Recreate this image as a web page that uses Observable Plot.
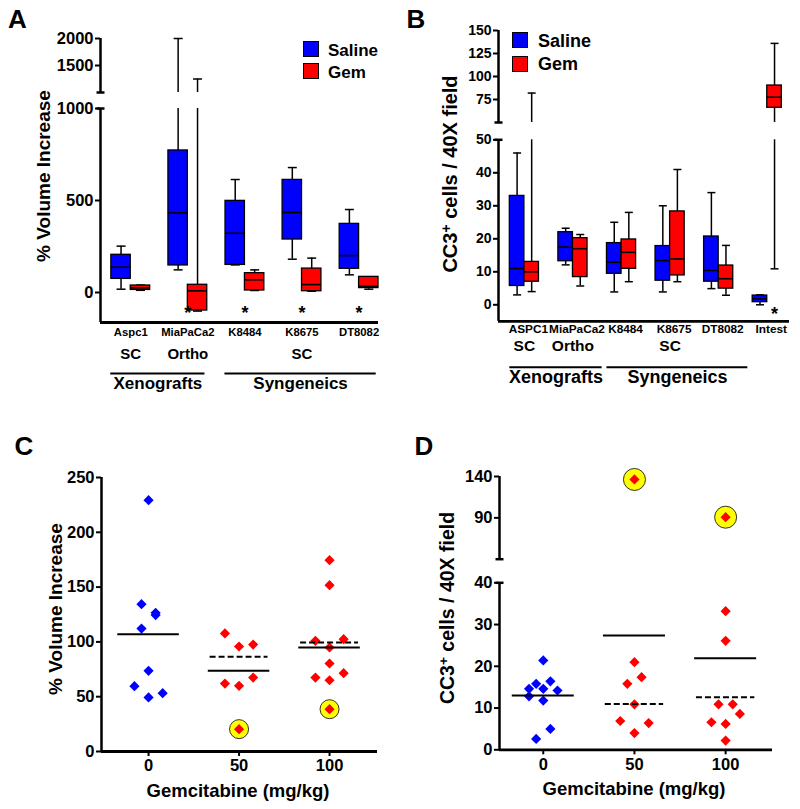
<!DOCTYPE html>
<html><head><meta charset="utf-8">
<script src="https://cdn.jsdelivr.net/npm/d3@7"></script>
<script src="https://cdn.jsdelivr.net/npm/@observablehq/plot@0.6"></script>
<style>
body{margin:0;background:#fff;}
#fig{position:relative;width:800px;height:809px;background:#fff;font-family:"Liberation Sans",Arial,Helvetica,sans-serif;font-weight:bold;overflow:hidden}
.panel{position:absolute}
.t{position:absolute;white-space:nowrap;line-height:1;color:#000}
.sup{position:relative;top:-0.45em;font-size:0.7em}
.sw{position:absolute;box-sizing:border-box;border:1px solid #000}
svg.tick-lg g[aria-label$="tick label"], svg.tick-lg g[aria-label$="tick label"] text{font-size:16.5px !important;font-weight:bold !important}
svg.tick-md g[aria-label$="tick label"], svg.tick-md g[aria-label$="tick label"] text{font-size:14px !important;font-weight:bold !important}
</style></head><body><div id="fig"></div>
<script>
// ---------------- DATA ----------------
// Panel A: % volume increase, box stats [min, q1, median, q3, max]
const categoriesA = ["Aspc1", "MiaPaCa2", "K8484", "K8675", "DT8082"];
const salineA = [[18, 74, 138, 205, 252], [123, 147, 433, 772, 2000], [150, 150, 322, 498, 614], [181, 288, 435, 612, 679], [96, 129, 201, 373, 451]];
const gemA = [[12, 14, 25, 38, 40], [-101, -98, 9, 42, 1250], [11, 11, 69, 105, 123], [7, 7, 43, 130, 187], [18, 24, 33, 85, 85]];
const starsA = [{cat: "MiaPaCa2"}, {cat: "K8484"}, {cat: "K8675"}, {cat: "DT8082"}];
const implantA = [{label: "SC", at: "Aspc1"}, {label: "Ortho", at: "MiaPaCa2"}, {label: "SC", at: "K8675"}];
const modelsA = [{label: "Xenografts", from: "Aspc1", to: "MiaPaCa2"}, {label: "Syngeneics", from: "K8484", to: "DT8082"}];
const ticksA = [0, 500, 1000, 1500, 2000];
const axisA = [-163, 1000, 2000]; // bottom, break, top

// Panel B: CC3+ cells / 40X field
const categoriesB = ["ASPC1", "MiaPaCa2", "K8484", "K8675", "DT8082", "Intest"];
const salineB = [[3, 5.7, 11, 33, 46], [12.1, 13.2, 17.5, 22, 23.2], [3.9, 9.4, 12.9, 18.7, 25], [3.9, 7.3, 13.4, 17.8, 30], [4.9, 7, 10.4, 20.7, 34], [0, 0.8, 1.8, 2.8, 3]];
const gemB = [[4, 7, 10, 13, 82], [5.7, 8.4, 17, 20.2, 21.3], [7, 10.9, 15.9, 19.8, 28], [7, 8.9, 13.9, 28.3, 41], [2.9, 4.9, 7.9, 11.9, 18], [10.9, 66, 77.5, 90.2, 136]];
const starsB = [{cat: "Intest", group: "Gem"}];
const implantB = [{label: "SC", at: "ASPC1"}, {label: "Ortho", at: "MiaPaCa2"}, {label: "SC", at: "K8675"}];
const modelsB = [{label: "Xenografts", from: "ASPC1", to: "MiaPaCa2"}, {label: "Syngeneics", from: "K8484", to: "DT8082"}];
const ticksB = [0, 10, 20, 30, 40, 50, 75, 100, 125, 150];
const axisB = [-5, 50, 150];

// Panel C: % volume increase vs gemcitabine dose
const dosesC = [0, 50, 100];
const valuesC = [
  [229.3, 134.4, 126.5, 124.5, 112.2, 73.6, 59.6, 49.3, 53.2],
  [107.7, 95.8, 97.6, 62, 59.9, 67.5, 20.4],
  [174.6, 151.8, 101, 102.5, 94.9, 80.3, 67.5, 65, 71.5, 38.6]
];
const columnC = [
  [0, -1, 1, 1, -1, 0, -2, 0, 2],
  [-2, 0, 2, -2, 0, 2, 0],
  [0, 0, -2, 2, 0, 0, -2, 0, 2, 0]
];
const circledC = [[], [20.4], [38.6]];
const meanAllC = [107, 73.6, 95];
const meanExclC = [null, 86.4, 99.5];
const ticksC = [0, 50, 100, 150, 200, 250];
const axisC = [0, 250];

// Panel D: CC3+ cells vs gemcitabine dose
const dosesD = [0, 50, 100];
const valuesD = [
  [21.4, 15.8, 14.6, 16.4, 14.6, 14.2, 12.8, 11.8, 5, 2.6],
  [136.4, 21, 17.4, 15.8, 10.9, 6.9, 6.4, 4],
  [90.8, 33.2, 26.1, 10.9, 10.9, 8.6, 6.6, 6.2, 2.2]
];
const columnD = [
  [0, -1, -2, 1, 0, 2, -2, 0, 1, -1],
  [0, 0, 1, -1, 0, -2, 2, 0],
  [0, 0, 0, -1, 1, 2, -2, 0, 0]
];
const circledD = [[], [136.4], [90.8]];
const meanAllD = [13, 27.4, 21.9];
const meanExclD = [null, 11, 12.6];
const ticksD = [0, 10, 20, 30, 40, 90, 140];
const axisD = [0, 40, 140];

// ---------------- STYLE / HELPERS ----------------
const FONT = '"Liberation Sans", Arial, Helvetica, sans-serif';
const BLUE = "#0000ff", RED = "#ff0000", YELLOW = "#ffff00";
const hline = {draw(ctx, size) { const r = Math.sqrt(size / Math.PI); ctx.moveTo(-r, 0); ctx.lineTo(r, 0); }};
const fig = document.getElementById("fig");

function place(node, left, top) {
  const d = document.createElement("div");
  d.className = "panel"; d.style.left = left + "px"; d.style.top = top + "px";
  d.appendChild(node); fig.appendChild(d);
}
function addText(html, x, y, size, opts = {}) {
  const d = document.createElement("div");
  d.className = "t"; d.innerHTML = html;
  d.style.left = x + "px"; d.style.top = y + "px"; d.style.fontSize = size + "px";
  d.style.transform = (opts.start ? "translate(0,-50%)" : "translate(-50%,-50%)") + (opts.rotate ? " rotate(-90deg)" : "");
  fig.appendChild(d);
}
function addSwatch(x, y, s, color) {
  const d = document.createElement("div");
  d.className = "sw"; d.style.left = x + "px"; d.style.top = y + "px";
  d.style.width = s + "px"; d.style.height = s + "px"; d.style.background = color;
  fig.appendChild(d);
}
// value belongs to a segment (upper segments exclude their bottom break value)
const inSeg = (seg, v) => v != null && (seg.upper ? v > seg.domain[0] : v >= seg.domain[0]) && v <= seg.domain[1];

// common axis marks of one segment
function axisMarks(c, seg) {
  const x0 = c.xDomain[0];
  const m = [
    Plot.ruleX([x0], {stroke: "black", strokeWidth: 2.5}),
    Plot.axisY({ticks: c.ticks.filter((t) => inSeg(seg, t)), tickSize: 5, tickPadding: 2, strokeWidth: 2, fontSize: c.tickFont, tickFormat: (d) => String(d), label: null})
  ];
  if (seg.cap != null) m.push(Plot.dot([seg.cap], {x: () => x0, y: (d) => d, symbol: hline, r: 4, stroke: "black", fill: "none", strokeWidth: 2.5}));
  if (!seg.upper) m.push(Plot.ruleY([seg.domain[0]], {stroke: "black", strokeWidth: 2.8}));
  return m;
}
function segmentsOf(axis, c) {
  // c.frames: frame [top, bottom] of each segment, in panel pixels
  if (axis.length === 2) return [{domain: axis, upper: false, cap: null, top: 0, height: c.height, marginTop: c.frames[0][0], marginBottom: c.height - c.frames[0][1]}];
  const split = Math.round((c.frames[0][1] + c.frames[1][0]) / 2);
  return [
    {domain: [axis[1], axis[2]], upper: true, cap: axis[1], top: 0, height: split, marginTop: c.frames[0][0], marginBottom: split - c.frames[0][1]},
    {domain: [axis[0], axis[1]], upper: false, cap: axis[1], top: split, height: c.height - split, marginTop: c.frames[1][0] - split, marginBottom: c.height - c.frames[1][1]}
  ];
}
function plotSeg(c, seg, marks) {
  return Plot.plot({
    width: 400, height: seg.height, marginTop: seg.marginTop, marginBottom: seg.marginBottom,
    marginLeft: c.marginLeft, marginRight: c.marginRight,
    className: c.tickFont > 15 ? "tick-lg" : "tick-md",
    style: {fontFamily: FONT, fontWeight: "bold", fontSize: c.tickFont + "px", background: "transparent", overflow: "visible"},
    x: {domain: c.xDomain, axis: null, label: null},
    y: {domain: seg.domain, label: null, axis: null},
    marks
  });
}

// ---------------- BOX PANELS ----------------
function boxPanel(c, left, top) {
  const idx = (k) => c.cats.indexOf(k);
  const rows = [];
  c.cats.forEach((cat, i) => {
    [["Saline", c.saline[i], -1], ["Gem", c.gem[i], 1]].forEach(([group, s, side]) => {
      rows.push({cat, group, x1: side < 0 ? i - c.boxW : i, x2: side < 0 ? i : i + c.boxW,
        xc: i + side * c.boxW / 2, min: s[0], q1: s[1], med: s[2], q3: s[3], max: s[4]});
    });
  });
  const starX = (s) => s.group ? rows.find((r) => r.cat === s.cat && r.group === s.group).xc : idx(s.cat);
  const gx1 = (d) => idx(d.from) - c.groupPad[0];
  const gx2 = (d) => idx(d.to) + c.groupPad[1];
  const o = c.offsets;
  for (const seg of segmentsOf(c.axis, c)) {
    const [lo, hi] = seg.domain;
    const whiskers = rows.filter((r) => r.max > lo && r.min < hi).map((r) => ({x: r.xc, y1: Math.max(r.min, lo), y2: Math.min(r.max, hi)}));
    const boxes = rows.filter((r) => inSeg(seg, r.q1) && inSeg(seg, r.q3));
    const marks = [
      Plot.ruleX(whiskers, {x: "x", y1: "y1", y2: "y2", stroke: "black", strokeWidth: 1.5}),
      Plot.dot(rows.filter((r) => inSeg(seg, r.min)), {x: "xc", y: "min", symbol: hline, r: c.capR, stroke: "black", fill: "none", strokeWidth: 1.5}),
      Plot.dot(rows.filter((r) => inSeg(seg, r.max)), {x: "xc", y: "max", symbol: hline, r: c.capR, stroke: "black", fill: "none", strokeWidth: 1.5}),
      Plot.rect(boxes.filter((r) => r.group === "Saline"), {x1: "x1", x2: "x2", y1: "q1", y2: "q3", fill: BLUE, stroke: "black", strokeWidth: 1.3}),
      Plot.rect(boxes.filter((r) => r.group === "Gem"), {x1: "x1", x2: "x2", y1: "q1", y2: "q3", fill: RED, stroke: "black", strokeWidth: 1.3}),
      Plot.ruleY(boxes, {x1: "x1", x2: "x2", y: "med", stroke: "black", strokeWidth: 1.6}),
      ...axisMarks(c, seg)
    ];
    if (!seg.upper) marks.push(
      Plot.text(c.cats, {x: (d, i) => i, text: (d) => d, frameAnchor: "bottom", dy: o.cat, dx: c.catDx, fontSize: c.catFont}),
      Plot.text(c.stars, {x: starX, text: () => "*", frameAnchor: "bottom", dy: o.star, fontSize: 18}),
      Plot.text(c.implant, {x: (d) => idx(d.at), text: "label", frameAnchor: "bottom", dy: o.implant, fontSize: c.implantFont}),
      Plot.ruleY(c.models, {x1: gx1, x2: gx2, y: () => lo, dy: o.line, stroke: "black", strokeWidth: 2}),
      Plot.text(c.models, {x: (d) => (gx1(d) + gx2(d)) / 2, text: "label", frameAnchor: "bottom", dy: o.group, fontSize: c.groupFont})
    );
    place(plotSeg(c, seg, marks), left, top + seg.top);
  }
}

boxPanel({
  cats: categoriesA, saline: salineA, gem: gemA, stars: starsA, implant: implantA, models: modelsA, ticks: ticksA, axis: axisA,
  height: 400, frames: [[38, 92], [108, 322]],
  xDomain: [-0.53, 4.34], marginLeft: 100, marginRight: 22,
  boxW: 0.34, capR: 4.5, tickFont: 16.5, catFont: 11.3, catDx: 0, implantFont: 15, groupFont: 17,
  groupPad: [0.35, 0.3], offsets: {cat: 13, star: -4, implant: 36.5, line: 51, group: 66.5}
}, 0, 0);

boxPanel({
  cats: categoriesB, saline: salineB, gem: gemB, stars: starsB, implant: implantB, models: modelsB, ticks: ticksB, axis: axisB,
  height: 400, frames: [[30, 122], [139.3, 320.8]],
  xDomain: [-0.533, 5.458], marginLeft: 98, marginRight: 11,
  boxW: 0.30, capR: 4, tickFont: 14, catFont: 11.8, catDx: 4, implantFont: 15.5, groupFont: 18,
  groupPad: [0.3, 0.6], offsets: {cat: 12, star: -1.5, implant: 29.5, line: 46, group: 62}
}, 400, 0);

// ---------------- SCATTER PANELS ----------------
function scatterPanel(c, left, top) {
  const pts = [], circ = [], means = [];
  c.doses.forEach((dose, g) => {
    c.values[g].forEach((v, k) => pts.push({dose, value: v, col: c.columns[g][k]}));
    c.circled[g].forEach((v) => circ.push({dose, value: v}));
    means.push({dose, value: c.meanAll[g], kind: "all"});
    if (c.meanExcl[g] != null) means.push({dose, value: c.meanExcl[g], kind: "excl"});
  });
  const px = (d) => d.dose + d.col * c.colW;
  for (const seg of segmentsOf(c.axis, c)) {
    const inS = (d) => inSeg(seg, d.value);
    const marks = [
      ...axisMarks(c, seg),
      Plot.dot(circ.filter(inS), {x: "dose", y: "value", r: c.circleR, fill: YELLOW, stroke: "black", strokeWidth: 0.8}),
      Plot.dot(pts.filter((d) => inS(d) && d.dose === 0), {x: px, y: "value", symbol: "diamond2", r: 4.6, fill: BLUE}),
      Plot.dot(pts.filter((d) => inS(d) && d.dose !== 0), {x: px, y: "value", symbol: "diamond2", r: 4.6, fill: RED}),
      Plot.ruleY(means.filter((d) => inS(d) && d.kind === "all"), {y: "value", x1: (d) => d.dose - c.meanHalf, x2: (d) => d.dose + c.meanHalf, stroke: "black", strokeWidth: 2}),
      Plot.ruleY(means.filter((d) => inS(d) && d.kind === "excl"), {y: "value", x1: (d) => d.dose - c.dashHalf, x2: (d) => d.dose + c.dashHalf, stroke: "black", strokeWidth: 2, strokeDasharray: "6,3"})
    ];
    if (!seg.upper) marks.push(Plot.axisX({ticks: c.doses, tickSize: 5, tickPadding: 3, strokeWidth: 2, fontSize: c.tickFont, tickFormat: (d) => String(d), label: null}));
    place(plotSeg(c, seg, marks), left, top + seg.top);
  }
}

scatterPanel({
  doses: dosesC, values: valuesC, columns: columnC, circled: circledC, meanAll: meanAllC, meanExcl: meanExclC, ticks: ticksC, axis: axisC,
  height: 409, frames: [[77, 351]],
  xDomain: [-26, 126.5], marginLeft: 101, marginRight: 23, tickFont: 16.5,
  colW: 3.9, meanHalf: 17, dashHalf: 16, circleR: 9.5
}, 0, 400);

scatterPanel({
  doses: dosesD, values: valuesD, columns: columnD, circled: circledD, meanAll: meanAllD, meanExcl: meanExclD, ticks: ticksD, axis: axisD,
  height: 409, frames: [[76, 158.7], [182.3, 349.3]],
  xDomain: [-24, 125.7], marginLeft: 99, marginRight: 28, tickFont: 16.5,
  colW: 3.9, meanHalf: 17, dashHalf: 16, circleR: 11
}, 400, 400);

// ---------------- TITLES, LETTERS, LEGENDS ----------------
addText("A", 17.5, 19, 26);
addText("B", 416, 19, 26);
addText("C", 24, 446, 26);
addText("D", 424, 446, 26);
addText("% Volume Increase", 42.5, 176, 19, {rotate: true});
addText('CC3<span class="sup">+</span> cells / 40X field', 449.5, 174, 20, {rotate: true});
addText("% Volume Increase", 55, 609, 19, {rotate: true});
addText('CC3<span class="sup">+</span> cells / 40X field', 448, 608, 19.5, {rotate: true});
addText("Gemcitabine (mg/kg)", 238, 790.5, 18.5);
addText("Gemcitabine (mg/kg)", 634, 789, 18.5);

addSwatch(303, 41, 16, BLUE); addSwatch(303, 63, 16, RED);
addText("Saline", 328, 50, 17, {start: true}); addText("Gem", 328, 71.5, 17, {start: true});
addSwatch(512, 32, 16, BLUE); addSwatch(512, 56, 16, RED);
addText("Saline", 538, 41, 18, {start: true}); addText("Gem", 538, 63.5, 18, {start: true});
</script></body></html>
